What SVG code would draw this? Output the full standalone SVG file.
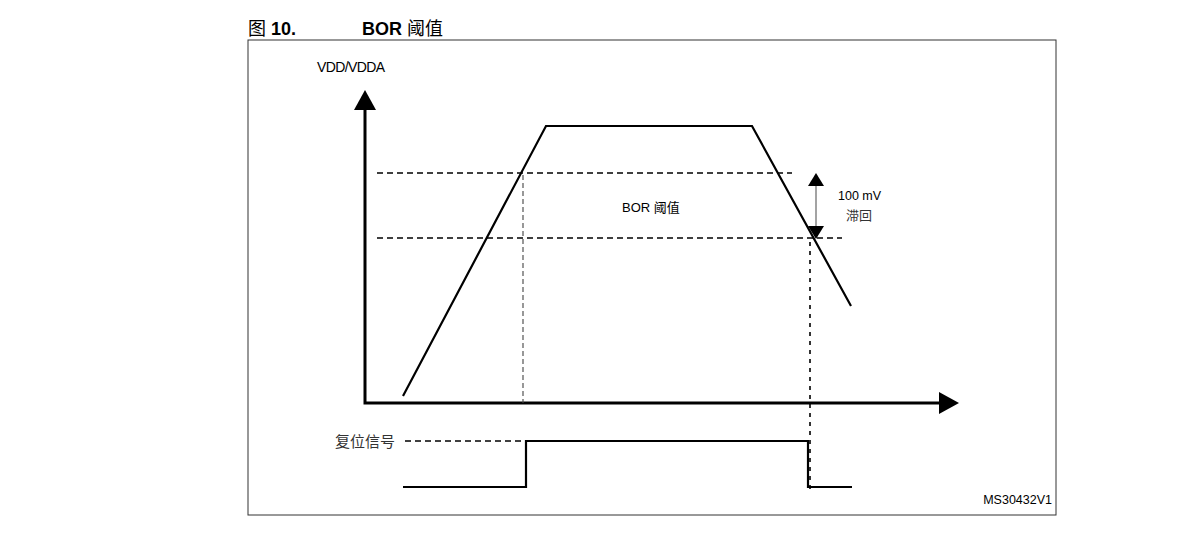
<svg xmlns="http://www.w3.org/2000/svg" width="1187" height="540" viewBox="0 0 1187 540">
<style>
.t{font-family:"Liberation Sans","Noto Sans CJK SC",sans-serif;fill:#000}
.cn{font-family:"Noto Sans CJK SC","Liberation Sans",sans-serif;fill:#333}
.thick{stroke:#000;stroke-width:3;fill:none}
.curve{stroke:#000;stroke-width:2.2;fill:none;stroke-linejoin:miter}
.dash{stroke:#000;stroke-width:1.4;stroke-dasharray:6,4;fill:none}
.vdash{stroke:#444;stroke-width:1.1;stroke-dasharray:5,3;fill:none}
</style>
<rect x="0" y="0" width="1187" height="540" fill="#fff"/>
<g id="title">
<text x="248" y="35" class="t" font-size="18" font-weight="bold"><tspan font-family="Noto Sans CJK SC,sans-serif" font-weight="normal">图</tspan> 10.</text>
<text x="362" y="35" class="t" font-size="18" font-weight="bold">BOR <tspan font-family="Noto Sans CJK SC,sans-serif" font-weight="normal">阈值</tspan></text>
</g>
<rect id="frame" x="248" y="40" width="808" height="475" fill="none" stroke="#333" stroke-width="1"/>
<g id="axes">
<polyline class="thick" points="365,108 365,403 942,403"/>
<polygon points="365,90 354,110 376,110" fill="#000"/>
<polygon points="959,403 939,392 939,414" fill="#000"/>
<text x="317" y="72" class="t" font-size="14" letter-spacing="-0.6">VDD/VDDA</text>
</g>
<g id="connectors">
<line class="dash" x1="377" y1="173" x2="792" y2="173"/>
<line class="dash" x1="377" y1="238" x2="842" y2="238"/>
<line class="vdash" x1="523" y1="175" x2="523" y2="403"/>
<line stroke="#000" stroke-width="1.6" stroke-dasharray="4,5" x1="810" y1="242" x2="810" y2="490"/>
<line class="dash" x1="405" y1="441" x2="526" y2="441"/>
<line x1="816" y1="184" x2="816" y2="228" stroke="#666" stroke-width="1.2"/>
<polygon points="816,173 808,186 824,186" fill="#000"/>
<polygon points="816,239 808,226 824,226" fill="#000"/>
</g>
<g id="vdd-curve">
<polyline class="curve" points="403,396 546,126 752,126 851,306"/>
</g>
<g id="reset-signal">
<polyline class="curve" points="403,487 526,487 526,441 808,441 808,487 852,487"/>
<text x="335" y="447" class="cn" font-size="15">复位信号</text>
</g>
<g id="labels">
<text x="622" y="212" class="t" font-size="13" fill="#222">BOR <tspan font-family="Noto Sans CJK SC,sans-serif">阈值</tspan></text>
<text x="838" y="200" class="t" font-size="12.5">100 mV</text>
<text x="846" y="220" class="cn" font-size="13">滞回</text>
<text x="1052" y="504" class="t" font-size="12.5" text-anchor="end">MS30432V1</text>
</g>
</svg>
